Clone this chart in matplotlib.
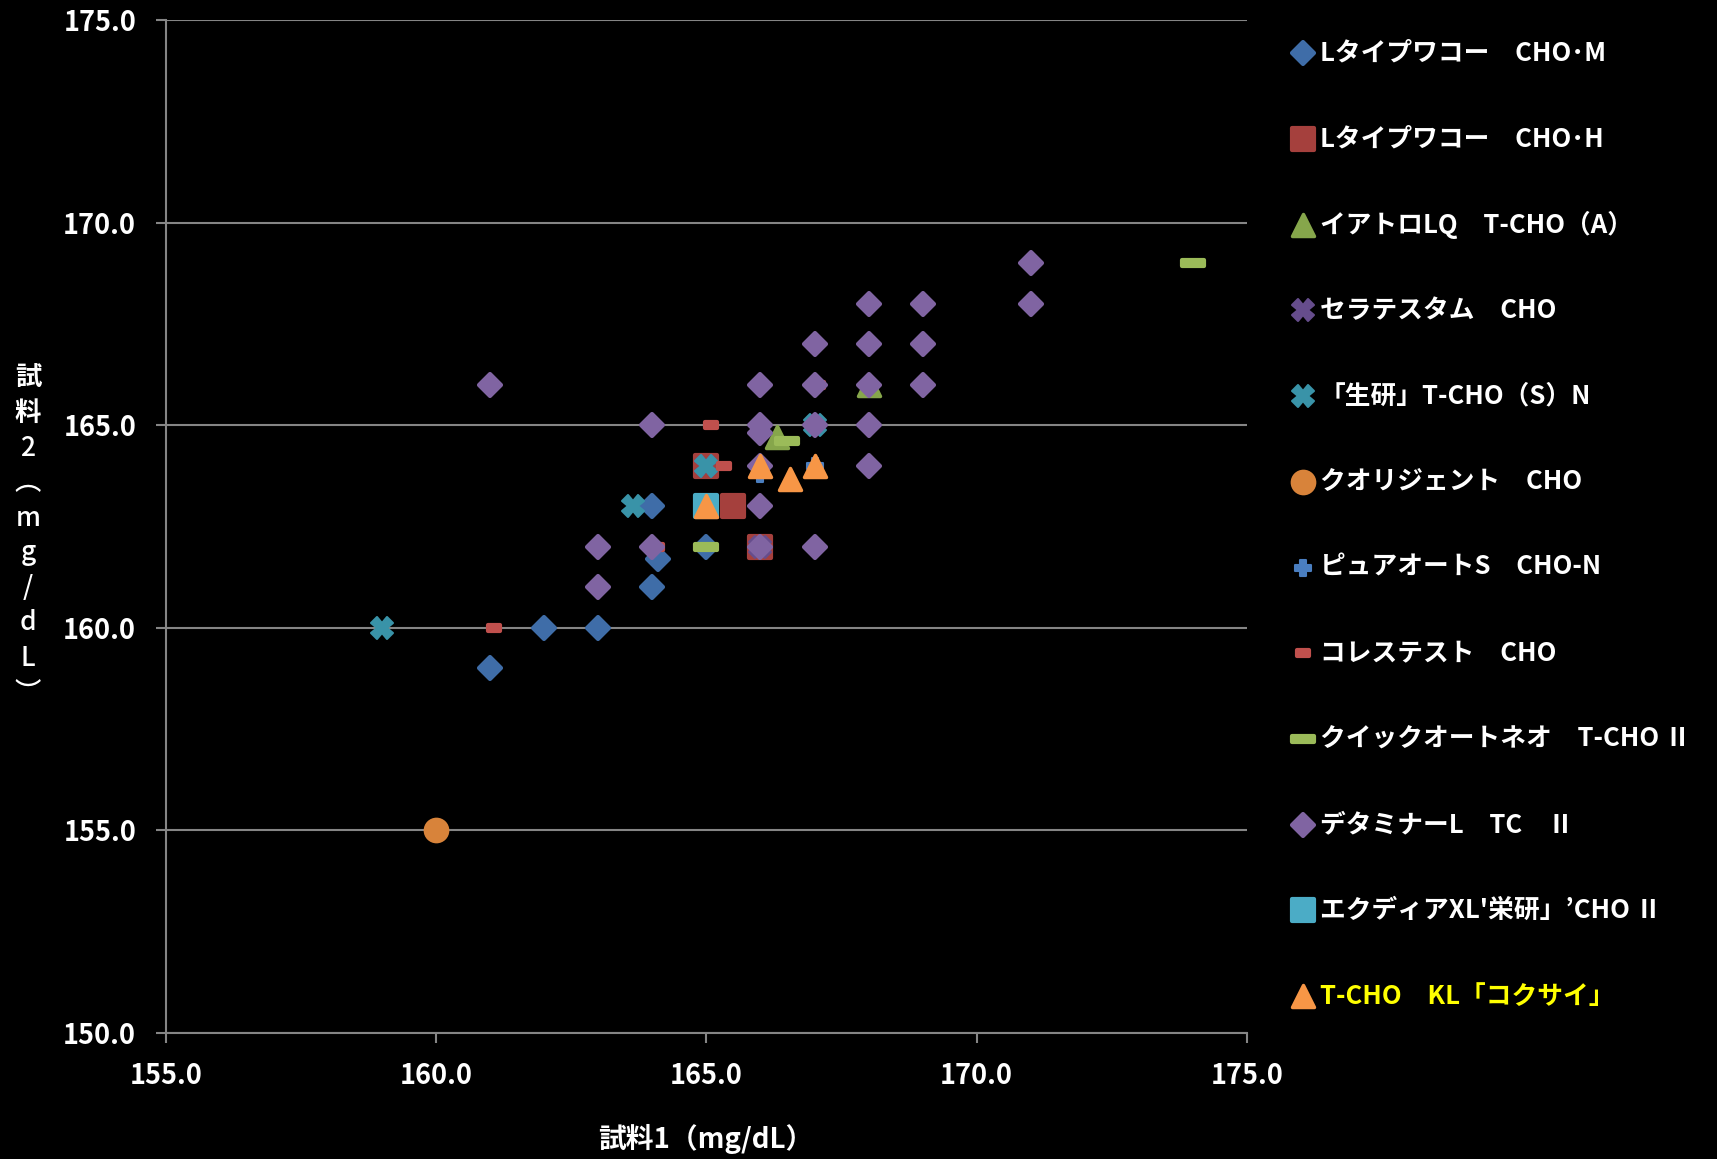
import matplotlib
matplotlib.use('Agg')
import matplotlib.pyplot as plt
from matplotlib.lines import Line2D
from matplotlib.markers import MarkerStyle
from matplotlib.path import Path

plt.rcParams['font.family'] = ['Noto Sans CJK JP', 'DejaVu Sans']

# ---- data: (試料1, 試料2) per reagent ----
wako_m_x = [161, 162, 163, 164, 164.1, 164, 165]
wako_m_y = [159, 160, 160, 161, 161.7, 163, 162]

wako_h_x = [165, 165.5, 166]
wako_h_y = [164, 163, 162]

iatro_x = [166.3, 168]
iatro_y = [164.7, 166]

serates_x = [165, 166]
serates_y = [164, 162]

seiken_x = [159, 163.65, 165, 167]
seiken_y = [160, 163, 164, 165]

quali_x = [160]
quali_y = [155]

pureauto_x = [166, 167]
pureauto_y = [163.8, 164]

choles_x = [161.07, 165.08, 165.33, 164.08, 167.06]
choles_y = [160, 165, 164, 162, 166]

quick_x = [174, 165, 166.5]
quick_y = [169, 162, 164.6]

determ_x = [161, 163, 163, 164, 164, 166, 166, 166, 166, 166, 166,
            167, 167, 167, 167, 168, 168, 168, 168, 168,
            169, 169, 169, 171, 171]
determ_y = [166, 162, 161, 165, 162, 166, 165, 164.8, 164, 163, 162,
            167, 166, 165, 162, 168, 167, 166, 165, 164,
            168, 167, 166, 169, 168]

ecdia_x = [165]
ecdia_y = [163]

kokusai_x = [165, 166, 166.54, 167]
kokusai_y = [163, 164, 163.66, 164]

labels = [
    'Lタイプワコー\u3000CHO･M',
    'Lタイプワコー\u3000CHO･H',
    'イアトロLQ\u3000T-CHO（A）',
    'セラテスタム\u3000CHO',
    '「生研」T-CHO（S）N',
    'クオリジェント\u3000CHO',
    'ピュアオートS\u3000CHO-N',
    'コレステスト\u3000CHO',
    'クイックオートネオ\u3000T-CHO Ⅱ',
    'デタミナーL\u3000TC\u3000Ⅱ',
    "エクディアXL'栄研」’CHO Ⅱ",
    'T-CHO\u3000KL「コクサイ」',
]

# rounded dash markers (Excel "short dash" / "long dash")
codes = [Path.MOVETO, Path.LINETO, Path.LINETO, Path.LINETO, Path.CLOSEPOLY]
short_dash = Path([(-1, -0.5), (1, -0.5), (1, 0.5), (-1, 0.5), (-1, -0.5)], codes)
long_dash = Path([(-1, -0.3), (1, -0.3), (1, 0.3), (-1, 0.3), (-1, -0.3)], codes)

# x, y, marker, size, edge width, colour
series = [
    (wako_m_x, wako_m_y, 'D', 11.5, 3, '#3F6DA8'),
    (wako_h_x, wako_h_y, 's', 15.7, 3, '#A5403D'),
    (iatro_x, iatro_y, '^', 16.0, 2.5, '#86A64B'),
    (serates_x, serates_y, 'X', 15.5, 1.5, '#664D8C'),
    (seiken_x, seiken_y, 'X', 15.5, 1.5, '#3993A8'),
    (quali_x, quali_y, 'o', 17.0, 1.5, '#D8833A'),
    (pureauto_x, pureauto_y, 'P', 12.2, 1.5, '#4A7EC0'),
    (choles_x, choles_y, short_dash, 9.2, 3, '#C0504D'),
    (quick_x, quick_y, long_dash, 15.7, 3, '#9BBB59'),
    (determ_x, determ_y, 'D', 11.5, 3, '#8064A2'),
    (ecdia_x, ecdia_y, 's', 15.7, 3, '#4BACC6'),
    (kokusai_x, kokusai_y, '^', 16.0, 2.5, '#F79646'),
]

grid_col = '#858585'

fig = plt.figure(figsize=(17.17, 11.59), dpi=100, facecolor='black')
ax = fig.add_axes([0.0965, 0.109, 0.6298, 0.8737])
ax.set_facecolor('black')

for x, y, m, ms, mew, c in series:
    ax.plot(x, y, linestyle='none',
            marker=MarkerStyle(m, joinstyle='round'),
            markersize=ms, markerfacecolor=c, markeredgecolor=c,
            markeredgewidth=mew, clip_on=False)

ax.set_xlim(155, 175)
ax.set_ylim(150, 175)
ax.set_xticks([155, 160, 165, 170, 175])
ax.set_yticks([150, 155, 160, 165, 170, 175])
ax.set_xticklabels([f'{v:.1f}' for v in ax.get_xticks()])
ax.set_yticklabels([f'{v:.1f}' for v in ax.get_yticks()])
ax.tick_params(axis='both', direction='out', length=7.2, width=1.5,
               color=grid_col, labelcolor='white', labelsize=19.5, pad=14)
for lab in ax.get_xticklabels() + ax.get_yticklabels():
    lab.set_fontweight('bold')

ax.yaxis.grid(True, color=grid_col, linewidth=1.5)
ax.set_axisbelow(True)
for side in ['top', 'right']:
    ax.spines[side].set_visible(False)
for side in ['left', 'bottom']:
    ax.spines[side].set_color(grid_col)
    ax.spines[side].set_linewidth(1.5)

# x label
fig.text(0.4113, 0.0173, '試料1（mg/dL）', color='white', fontsize=20,
         fontweight='bold', ha='center', va='center')

# stacked vertical y label
ylab_chars = ['試', '料', '2', '︵', 'm', 'g', '/', 'd', 'L', '︶']
for i, ch in enumerate(ylab_chars):
    py = 378 + 35.0 * i
    fig.text(0.0163, 1 - py / 1159, ch, color='white', fontsize=19,
             fontweight='bold' if i < 2 else 'medium',
             ha='center', va='center')

# legend, drawn row by row
for i, ((x, y, m, ms, mew, c), lab) in enumerate(zip(series, labels)):
    fy = 1 - (53.3 + 85.7 * i) / 1159
    fig.add_artist(Line2D([0.7587], [fy], transform=fig.transFigure,
                          linestyle='none',
                          marker=MarkerStyle(m, joinstyle='round'),
                          markersize=ms, markerfacecolor=c,
                          markeredgecolor=c, markeredgewidth=mew))
    fig.text(0.7688, fy, lab, color='#FFFF00' if i == 11 else 'white',
             fontsize=18.5, fontweight='bold', ha='left', va='center')

fig.savefig('out.png', dpi=100, facecolor='black')
